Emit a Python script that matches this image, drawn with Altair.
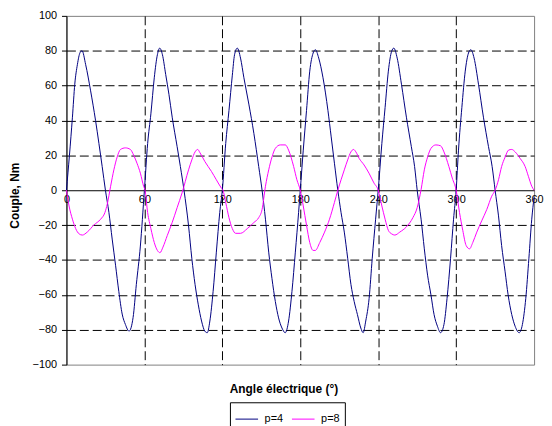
import altair as alt
import pandas as pd

# ---- data ----
angle_p4 = [0, 4.6, 6.4, 8.4, 10.5, 12, 14.8, 18.6, 22.4, 25, 27.5, 30, 32.7, 35.2, 37.8, 40.3, 42.9, 45.4, 48.2, 51.3, 53.8, 56.9,
            60, 62.5, 65, 67.6, 70, 71.8, 73.9, 76.4, 78.9, 81.4, 85.2, 87.7, 90.5, 94, 96.5, 99, 101.5, 104, 106.5, 108.4, 110.4, 112.9, 115.4, 118,
            120, 122.6, 125.1, 127.7, 129.4, 131.5, 134, 136.6, 140.4, 144.3, 148, 150.6, 153.2, 155.7, 158.2, 160.8, 163.3, 165.9, 168.4, 171, 173.6, 176.2, 178.7,
            180, 182.3, 184.8, 187.3, 189.9, 191.6, 194.2, 197.5, 201.3, 203.8, 206.3, 208.9, 211.4, 213.9, 216.5, 219, 221.5, 224, 226.6, 228.4, 230.4, 233, 235.4, 238,
            240, 242.8, 245.3, 247.8, 250.3, 252, 254.6, 257.9, 261.7, 265.5, 268, 270, 273, 275.5, 278, 280.6, 283, 285.6, 288, 290.6, 293, 295.7, 298,
            300, 301.8, 304.4, 307, 309.5, 311.3, 313.8, 317.2, 321, 324.9, 327.7, 330, 332.6, 335, 337.7, 340, 342.8, 345.4, 348.5, 351, 353.6, 356, 358.2, 360]
couple_p4 = [0, 41.9, 60.8, 72, 79, 80, 72, 57, 40, 26.8, 13.6, 0, -12.8, -28, -43, -58, -71, -77, -80.8, -73, -54, -32,
             0, 26.8, 43.8, 64.5, 77.7, 81.5, 77.7, 66.4, 55, 41.9, 25, 13.6, 0, -20.4, -39, -54, -65.7, -75, -80.8, -81.7, -75, -58, -35.5, -12.8,
             0, 26.8, 45.7, 66, 77.7, 81.5, 75.8, 64.5, 49.4, 32.5, 13.6, 0, -16.6, -35.5, -50.6, -63.8, -73.2, -79, -81.7, -75, -58, -35.5, -12.8,
             0, 23, 45.7, 68.3, 78.7, 80.6, 75.8, 64.5, 45.7, 30.6, 15.5, 0, -12.8, -24, -39, -54, -63.8, -71.3, -79, -81.7, -75, -62, -39, -16.6,
             0, 26.8, 47.5, 68.3, 79.6, 81.5, 75.8, 60.8, 41.9, 25, 13.6, 0, -16.6, -33.6, -48.7, -60, -71.3, -78, -81.7, -77, -62, -39, -16.6,
             0, 23, 47.5, 68.3, 78.7, 80.6, 75.8, 60.8, 41.9, 25, 13.6, 0, -14.7, -31.7, -46.8, -60, -71.3, -78, -81.7, -77, -62, -39, -16.6, -4]

angle_p8 = [0, 2, 4.6, 7.1, 9.7, 12.2, 16, 21, 26.3, 29.6, 31.4, 34, 36.5, 39, 41.6, 45.4, 49.2, 51.8, 54.3, 56.9, 59.4,
            60.5, 62.5, 65, 67.6, 70, 72, 74.3, 77.6, 81.4, 85.2, 89, 94, 96.5, 99, 101, 102.8, 106.6, 111.6, 115.4, 119.2,
            120.5, 122.6, 125.1, 127.7, 130.2, 134, 139.2, 144.3, 148, 150.6, 153.2, 155.7, 158.2, 160.8, 164.6, 168.5, 171, 174.9, 177.4,
            180, 182.3, 184.8, 187.3, 189.9, 191.6, 195, 198.7, 202.5, 206.3, 208.9, 211.4, 213.9, 216.5, 219, 221, 222.8, 225.3, 229.1, 232.9, 236.7,
            240, 242.8, 245.3, 247.8, 250.3, 252.8, 256.6, 261.7, 266.7, 270, 273, 275.5, 278, 280.6, 284.4, 288, 290.6, 294.4, 297,
            300, 302.6, 305.1, 307.7, 310.3, 312.8, 315.9, 319.7, 323.6, 327.4, 330, 332.6, 335, 337.7, 340.3, 342.8, 345.4, 349.2, 353.1, 355.6, 358.2, 360]
couple_p8 = [0, -9, -16.6, -22, -25, -25.7, -24, -20, -16.6, -12.8, -8, 2.3, 11.7, 19, 23.4, 24.3, 23.4, 20, 15.5, 9.8, 2.3,
             0, -12.8, -22, -30, -34.5, -35.8, -32.6, -26, -18.5, -10, -1.5, 11.7, 17.4, 22, 23.4, 21.5, 16.4, 10.8, 6, 1.3,
             0, -7, -15.7, -22, -24.7, -24.7, -22, -18.5, -15.7, -11, 2.3, 11.7, 19, 24, 26, 26, 23, 13.6, 6,
             0, -9, -20, -30, -34.5, -34.5, -30, -24, -16.6, -7, 0, 6, 11.7, 17.4, 22, 23.4, 22, 18.3, 14.5, 9.8, 4.2,
             0, -9, -16.6, -23, -25, -25.7, -24, -21, -15.7, -10, 0.4, 11.7, 19, 24, 26, 25.5, 22, 13.6, 7,
             0, -12.8, -23, -31.7, -33.6, -30, -24, -17.5, -11, -3.4, 0, 6, 13.6, 19, 23, 23.4, 22, 18.3, 13.6, 8, 2.3, 0]

series_names = ["p=4", "p=8"]
series_colors = ["#000080", "#FF00FF"]
x_ticks = [0, 60, 120, 180, 240, 300, 360]
y_ticks = [-100, -80, -60, -40, -20, 0, 20, 40, 60, 80, 100]

df = pd.concat([
    pd.DataFrame({"angle": angle_p4, "couple": couple_p4, "serie": series_names[0]}),
    pd.DataFrame({"angle": angle_p8, "couple": couple_p8, "serie": series_names[1]}),
], ignore_index=True)
df["ordre"] = range(len(df))

FONT = "Liberation Sans"
W, H = 472, 352

chart = alt.Chart(df).mark_line(strokeWidth=1, interpolate="monotone").encode(
    x=alt.X("angle:Q",
            scale=alt.Scale(domain=[0, 360], nice=False, zero=False),
            axis=alt.Axis(values=x_ticks, offset=-H / 2, title="Angle électrique (°)",
                          titleX=219, titleY=195, titleFont=FONT, titleFontSize=12,
                          titleFontWeight="bold", titleColor="black",
                          ticks=False, labelPadding=3, labelFlush=False,
                          labelFont=FONT, labelFontSize=11, labelColor="black",
                          domainColor="black", domainWidth=1,
                          grid=True, gridColor="black", gridDash=[9, 4], gridWidth=1,
                          gridOpacity={"condition": {"test": "datum.value === 0 || datum.value === 360", "value": 0}, "value": 1})),
    y=alt.Y("couple:Q",
            scale=alt.Scale(domain=[-100, 100], nice=False),
            axis=alt.Axis(values=y_ticks, title="Couple, Nm", titleFont=FONT, titleFontSize=12,
                          titleFontWeight="bold", titleColor="black", titlePadding=11,
                          titleY=H / 2 + 5,
                          tickSize=5, tickColor="black", labelPadding=5,
                          labelFont=FONT, labelFontSize=11, labelColor="black",
                          domainColor="black", domainWidth=1,
                          grid=True, gridColor="black", gridDash=[9, 4], gridWidth=1,
                          gridOpacity={"condition": {"test": "abs(datum.value) === 100 || datum.value === 0", "value": 0}, "value": 1})),
    color=alt.Color("serie:N",
                    scale=alt.Scale(domain=series_names, range=series_colors),
                    legend=alt.Legend(title=None, orient="none", legendX=165, legendY=390,
                                      direction="horizontal", symbolType="stroke", symbolSize=520,
                                      symbolStrokeWidth=1, labelFont=FONT, labelFontSize=11,
                                      labelColor="black", labelOffset=6, columnPadding=6,
                                      padding=5, strokeColor="black", cornerRadius=0)),
    order="ordre:Q",
).properties(
    width=W, height=H,
    autosize=alt.AutoSizeParams(type="none"),
    padding={"left": 59, "top": 6, "right": 10, "bottom": 60},
).configure_view(stroke="#808080", strokeWidth=1)

chart.save("out.html", embed_options={"renderer": "svg", "actions": False})
